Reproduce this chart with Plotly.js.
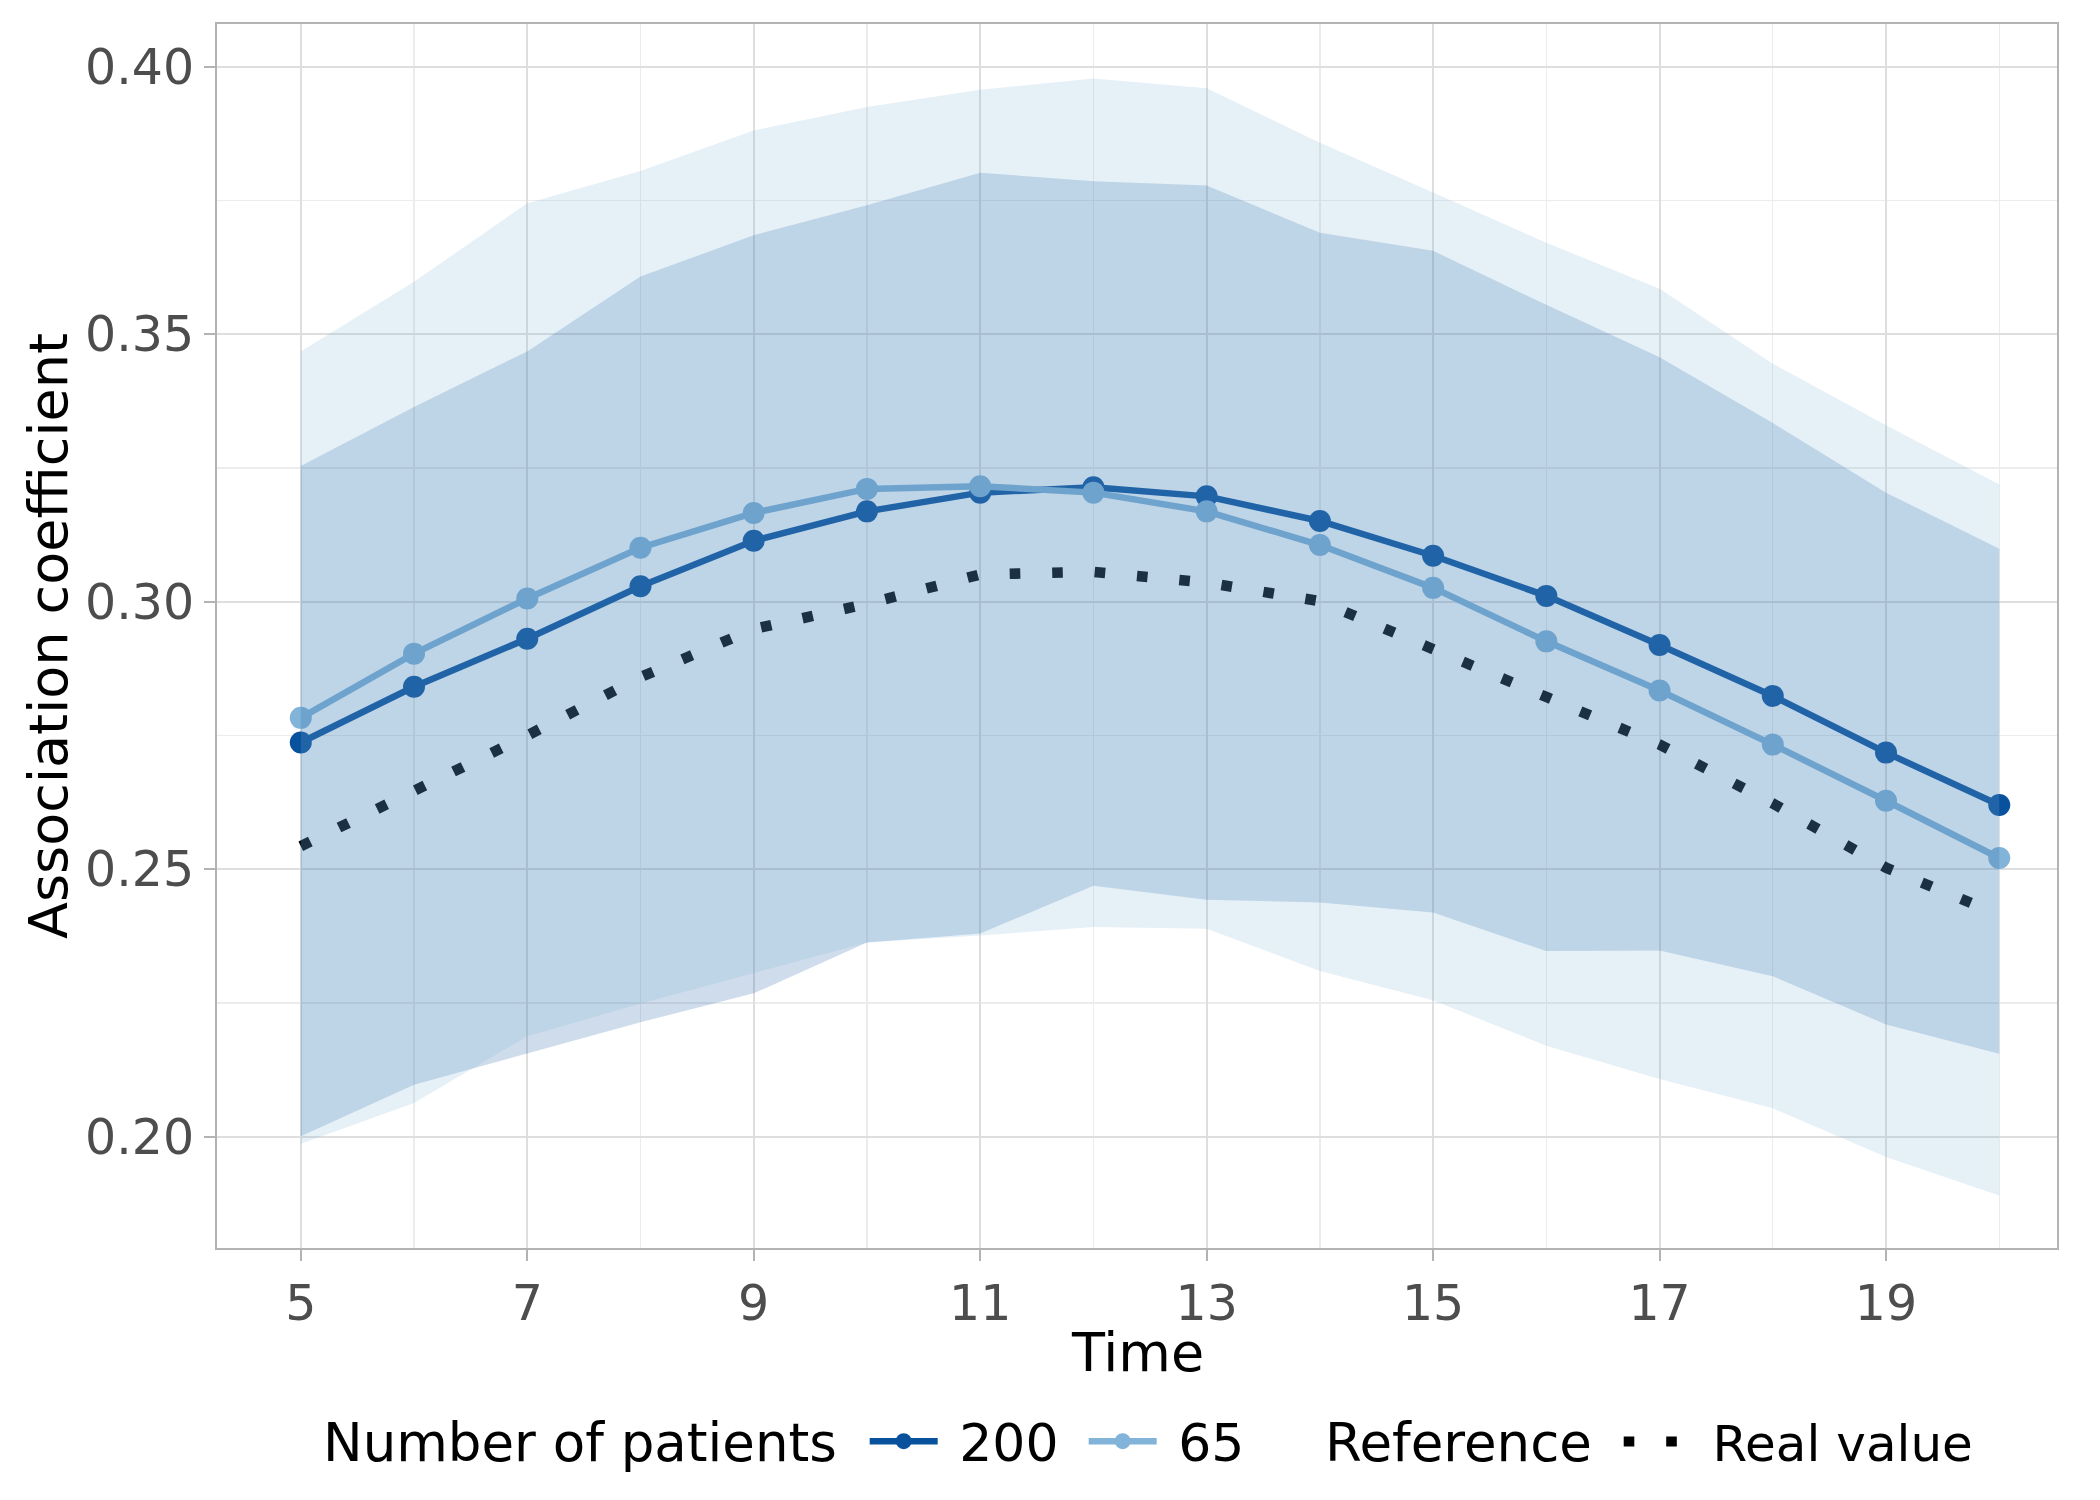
<!DOCTYPE html>
<html>
<head>
<meta charset="utf-8">
<script src="https://cdn.plot.ly/plotly-3.0.1.min.js"></script>
<style>html,body{margin:0;padding:0;background:#fff;}#chart{width:2100px;height:1500px;}</style>
</head>
<body>
<div id="chart"></div>
<script>
// ---- data ----
const time = [5, 6, 7, 8, 9, 10, 11, 12, 13, 14, 15, 16, 17, 18, 19, 20];

const est200 = [0.2737, 0.2841, 0.2931, 0.3029, 0.3114, 0.3169, 0.3204, 0.3214, 0.3197, 0.3151, 0.3086, 0.3011, 0.2919, 0.2824, 0.2718, 0.2620];
const est65  = [0.2783, 0.2903, 0.3006, 0.3101, 0.3166, 0.3211, 0.3216, 0.3204, 0.3169, 0.3106, 0.3026, 0.2926, 0.2834, 0.2733, 0.2628, 0.2521];
const realValue = [0.2543, 0.2645, 0.2750, 0.2859, 0.2949, 0.2996, 0.3051, 0.3056, 0.3036, 0.3001, 0.2909, 0.2822, 0.2733, 0.2623, 0.2503, 0.2415];

const upper200 = [0.3254, 0.3364, 0.3468, 0.3608, 0.3685, 0.3741, 0.3802, 0.3786, 0.3778, 0.3690, 0.3656, 0.3555, 0.3457, 0.3334, 0.3204, 0.3099];
const lower200 = [0.2001, 0.2097, 0.2155, 0.2214, 0.2268, 0.2363, 0.2380, 0.2469, 0.2443, 0.2438, 0.2419, 0.2347, 0.2348, 0.2300, 0.2210, 0.2155];
const upper65  = [0.3468, 0.3598, 0.3745, 0.3805, 0.3881, 0.3925, 0.3957, 0.3978, 0.3960, 0.3858, 0.3765, 0.3671, 0.3585, 0.3445, 0.3330, 0.3219];
const lower65  = [0.1987, 0.2063, 0.2188, 0.2249, 0.2306, 0.2363, 0.2376, 0.2392, 0.2389, 0.2310, 0.2255, 0.2170, 0.2108, 0.2053, 0.1962, 0.1890];

const seriesNames = ['200', '65'];
const legendTitle1 = 'Number of patients';
const legendTitle2 = 'Reference';
const realName = 'Real value';
const xTitle = 'Time';
const yTitle = 'Association coefficient';
const xTicks = [5, 7, 9, 11, 13, 15, 17, 19];
const yTicks = [0.20, 0.25, 0.30, 0.35, 0.40];

// ---- styles ----
const col200 = '#08519c';
const col65 = '#82b3d9';
const FONT = 'DejaVu Sans, Noto Sans, sans-serif';

function band(lo, hi) {
  return {
    x: time.concat(time.slice().reverse()),
    y: hi.concat(lo.slice().reverse())
  };
}
const b200 = band(lower200, upper200);
const b65 = band(lower65, upper65);

const traces = [
  {
    x: time, y: realValue, type: 'scatter', mode: 'lines', name: '&nbsp;' + realName,
    legend: 'legend2',
    line: {color: '#000000', width: 10.6, dash: '10.6px,31.9px'},
    hoverinfo: 'skip'
  },
  {
    x: time, y: est200, type: 'scatter', mode: 'lines+markers', name: '&nbsp;' + seriesNames[0],
    line: {color: col200, width: 6.5},
    marker: {color: col200, size: 22},
    legendrank: 1
  },
  {
    x: time, y: est65, type: 'scatter', mode: 'lines+markers', name: '&nbsp;' + seriesNames[1],
    line: {color: col65, width: 6.5},
    marker: {color: col65, size: 22},
    legendrank: 2
  },
  {
    x: b200.x, y: b200.y, type: 'scatter', mode: 'lines', fill: 'toself',
    fillcolor: 'rgba(8,81,156,0.2)', line: {width: 0, color: 'rgba(0,0,0,0)'},
    showlegend: false, hoverinfo: 'skip'
  },
  {
    x: b65.x, y: b65.y, type: 'scatter', mode: 'lines', fill: 'toself',
    fillcolor: 'rgba(130,179,217,0.2)', line: {width: 0, color: 'rgba(0,0,0,0)'},
    showlegend: false, hoverinfo: 'skip'
  }
];

const layout = {
  width: 2100, height: 1500,
  margin: {l: 217, r: 43, t: 24, b: 252},
  paper_bgcolor: '#ffffff', plot_bgcolor: '#ffffff',
  font: {family: FONT, color: '#000000'},
  xaxis: {
    range: [4.26, 20.51],
    tickmode: 'array', tickvals: xTicks, ticktext: xTicks.map(String),
    tickfont: {size: 49, color: '#4d4d4d', family: FONT},
    ticks: 'outside', ticklen: 11, tickwidth: 2, tickcolor: '#b3b3b3',
    showgrid: true, gridcolor: '#dedede', gridwidth: 2,
    minor: {dtick: 1, tick0: 4, showgrid: true, gridcolor: '#ececec', gridwidth: 1.3, ticks: ''},
    showline: true, linecolor: '#b3b3b3', linewidth: 2, mirror: true,
    zeroline: false
  },
  yaxis: {
    range: [0.1792, 0.4080],
    tickmode: 'array', tickvals: yTicks, ticktext: yTicks.map(v => v.toFixed(2)),
    tickfont: {size: 49, color: '#4d4d4d', family: FONT},
    ticks: 'outside', ticklen: 11, tickwidth: 2, tickcolor: '#b3b3b3',
    showgrid: true, gridcolor: '#dedede', gridwidth: 2,
    minor: {dtick: 0.025, tick0: 0.175, showgrid: true, gridcolor: '#ececec', gridwidth: 1.3, ticks: ''},
    showline: true, linecolor: '#b3b3b3', linewidth: 2, mirror: true,
    zeroline: false,
    title: {text: yTitle, font: {size: 54, color: '#000000', family: FONT}, standoff: 0}
  },
  legend: {
    orientation: 'h', x: 0.352, y: -0.158, xanchor: 'left', yanchor: 'middle',
    font: {size: 52, family: FONT, color: '#000000'},
    itemwidth: 68, entrywidth: 136,
    bgcolor: 'rgba(0,0,0,0)', traceorder: 'normal'
  },
  legend2: {
    orientation: 'h', x: 0.7618, y: -0.158, xanchor: 'left', yanchor: 'middle',
    font: {size: 50, family: FONT, color: '#000000'},
    itemwidth: 68,
    bgcolor: 'rgba(0,0,0,0)'
  },
  annotations: [
    {text: xTitle, xref: 'paper', yref: 'paper', x: 0.5, y: -0.0857, xanchor: 'center', yanchor: 'middle',
     showarrow: false, font: {size: 54, color: '#000000', family: FONT}},
    {text: legendTitle1, xref: 'paper', yref: 'paper', x: 0.0565, y: -0.1585, xanchor: 'left', yanchor: 'middle',
     showarrow: false, font: {size: 53, color: '#000000', family: FONT}},
    {text: legendTitle2, xref: 'paper', yref: 'paper', x: 0.601, y: -0.1585, xanchor: 'left', yanchor: 'middle',
     showarrow: false, font: {size: 53, color: '#000000', family: FONT}}
  ],
  showlegend: true
};

Plotly.newPlot('chart', traces, layout, {displayModeBar: false, staticPlot: true});
</script>
</body>
</html>
